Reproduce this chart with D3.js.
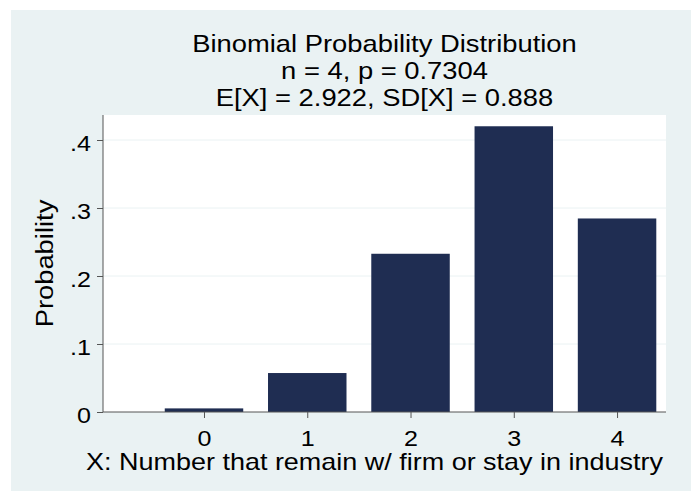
<!DOCTYPE html>
<html>
<head>
<meta charset="utf-8">
<script src="https://cdn.jsdelivr.net/npm/d3@7"></script>
<style>
  html, body { margin: 0; padding: 0; background: #ffffff; }
  svg { display: block; }
  text { font-family: "Liberation Sans", Arial, Helvetica, sans-serif; fill: #000; }
</style>
</head>
<body>
<svg id="chart" width="691" height="491"></svg>
<script>
// ---- data ----
const categories = [0, 1, 2, 3, 4];
const probabilities = [0.0053, 0.0573, 0.2327, 0.4202, 0.2846];
const yTicks = [0, 0.1, 0.2, 0.3, 0.4];
const yTickLabels = ["0", ".1", ".2", ".3", ".4"];
const titleLines = ["Binomial Probability Distribution", "n = 4, p = 0.7304", "E[X] = 2.922, SD[X] = 0.888"];
const xTitle = "X: Number that remain w/ firm or stay in industry";
const yTitle = "Probability";

// ---- layout ----
const W = 691, H = 491;
const SX = 1.14; // horizontal stretch of the reference's lettering
const plot = { left: 103, right: 666, top: 115, bottom: 412 };
const svg = d3.select("#chart");

svg.append("rect").attr("x", 11).attr("y", 10).attr("width", W - 11).attr("height", H - 10)
  .attr("fill", "#EAF2F3");
svg.append("rect").attr("x", plot.left).attr("y", plot.top)
  .attr("width", plot.right - plot.left).attr("height", plot.bottom - plot.top)
  .attr("fill", "#ffffff");

const x = d3.scaleLinear().domain([-0.978, 4.474]).range([plot.left, plot.right]);
const y = d3.scaleLinear().domain([0, 0.4]).range([plot.bottom, 140]);
const barW = (x(1) - x(0)) * 0.76;

// gridlines
svg.append("g").selectAll("line").data(yTicks.slice(1)).join("line")
  .attr("x1", plot.left).attr("x2", plot.right)
  .attr("y1", d => y(d)).attr("y2", d => y(d))
  .attr("stroke", "#EAF2F3").attr("stroke-width", 1);

// bars
svg.append("g").selectAll("rect").data(categories).join("rect")
  .attr("x", (d) => x(d) - barW / 2)
  .attr("width", barW)
  .attr("y", (d, i) => y(probabilities[i]))
  .attr("height", (d, i) => y(0) - y(probabilities[i]))
  .attr("fill", "#1F2D52");

// y axis
const yAxis = d3.axisLeft(y).tickValues(yTicks).tickFormat((d, i) => yTickLabels[i])
  .tickSize(6).tickPadding(5);
const gy = svg.append("g").attr("transform", `translate(${plot.left},0)`).call(yAxis);
gy.select(".domain").attr("d", `M0,${plot.top}V${plot.bottom}`).attr("stroke", "#555");
gy.selectAll(".tick line").attr("stroke", "#555");
gy.selectAll(".tick text").attr("x", null).attr("dy", null)
  .attr("transform", `translate(-12,10.7) scale(${SX},1)`)
  .attr("font-size", 22).attr("font-family", "Liberation Sans, Arial, sans-serif")
  .attr("fill", "#000");

// x axis
const xAxis = d3.axisBottom(x).tickValues(categories).tickFormat(d3.format("d"))
  .tickSize(6).tickPadding(5);
const gx = svg.append("g").attr("transform", `translate(0,${plot.bottom})`).call(xAxis);
gx.select(".domain").attr("d", `M${plot.left},0H${plot.right}`).attr("stroke", "#555");
gx.selectAll(".tick line").attr("stroke", "#555");
gx.selectAll(".tick text").attr("y", null).attr("dy", null)
  .attr("transform", `translate(0,34) scale(${SX},1)`)
  .attr("font-size", 22).attr("font-family", "Liberation Sans, Arial, sans-serif")
  .attr("fill", "#000");

// titles
const cx = (plot.left + plot.right) / 2;
svg.append("g").selectAll("text").data(titleLines).join("text")
  .attr("transform", (d, i) => `translate(${cx},${52 + i * 27}) scale(${SX},1)`)
  .attr("text-anchor", "middle").attr("font-size", 24)
  .text(d => d);

svg.append("text").attr("transform", `translate(${cx - 10},470) scale(1.124,1)`)
  .attr("text-anchor", "middle").attr("font-size", 24).text(xTitle);

svg.append("text").attr("transform", `translate(53,${(plot.top + plot.bottom) / 2}) rotate(-90) scale(${SX},1)`)
  .attr("text-anchor", "middle").attr("font-size", 24).text(yTitle);
</script>
</body>
</html>
